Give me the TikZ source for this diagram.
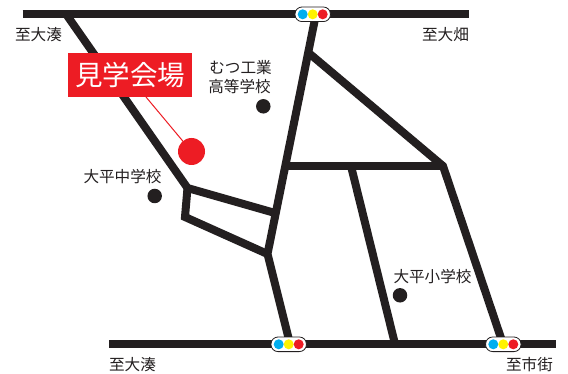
\documentclass[tikz,border=0pt]{standalone}
\usepackage{fontspec}
\setmainfont{Noto Sans CJK JP}[Scale=1]
\definecolor{ink}{HTML}{231F20}
\definecolor{mapred}{HTML}{ED1C24}
\definecolor{sigblue}{HTML}{00AEEF}
\definecolor{sigyellow}{HTML}{FFF200}
\tikzset{
  road/.style={draw=ink,line width=8pt,line join=miter},
  mainroad/.style={draw=ink,line width=8.3pt},
  lbl/.style={inner sep=0pt,text=ink,font=\fontsize{15.6pt}{18pt}\selectfont},
  landmark/.style={circle,fill=ink,draw=none,minimum size=14.5pt,inner sep=0pt},
  capsule/.style={draw=ink,fill=white,line width=0.8pt,rounded corners=7pt},
  lamp/.style={circle,draw=none,minimum size=10pt,inner sep=0pt},
}
\newcommand{\signal}[2]{%
  \path[capsule] (#1-17.7,#2-7.3) rectangle (#1+17.7,#2+7.3);
  \node[lamp,fill=sigblue] at (#1-10,#2) {};
  \node[lamp,fill=sigyellow] at (#1,#2) {};
  \node[lamp,fill=mapred] at (#1+10,#2) {};
}
\begin{document}
\begin{tikzpicture}[x=1pt,y=-1pt]
\useasboundingbox (0,0) rectangle (568,374);
\fill[white] (0,0) rectangle (568,374);
% junctions
\coordinate (tl) at (22.5,14);
\coordinate (tr) at (469,14);
\coordinate (bl) at (109,344);
\coordinate (br) at (556,344);
\coordinate (a) at (66,14);
\coordinate (b) at (187.5,188);
\coordinate (c) at (275,213);
\coordinate (d) at (185,217);
\coordinate (e) at (267.5,254);
\coordinate (f) at (316,14);
\coordinate (g) at (290,344);
\coordinate (h) at (310,54);
\coordinate (i) at (443,166);
\coordinate (j) at (287,166);
\coordinate (k) at (503,344);
\coordinate (m) at (351,166);
\coordinate (n) at (395,344);
% roads
\draw[road] (a) -- (b) -- (c);
\draw[road] (b) -- (d) -- (e);
\draw[road] (f) -- (e) -- (g);
\draw[road] (h) -- (i) -- (k);
\draw[road] (j) -- (i);
\draw[road] (m) -- (n);
\draw[mainroad] (tl) -- (tr);
\draw[mainroad] (bl) -- (br);
% signals
\signal{312.7}{14.3}
\signal{288.7}{344.3}
\signal{503.3}{344.3}
% venue
\coordinate (venue) at (191.5,151.5);
\node[rectangle,fill=mapred,minimum width=124pt,minimum height=44pt,inner sep=0pt,text=white,font=\fontsize{27.5pt}{30pt}\selectfont] (title) at (130,75) {見学会場};
\draw[mapred,line width=1pt] (146,97) -- (venue);
\node[circle,fill=mapred,minimum size=27pt,inner sep=0pt] (spot) at (venue) {};
% landmarks
\node[landmark] (s1) at (263.3,106.3) {};
\node[landmark] (s2) at (154.7,196) {};
\node[landmark] (s3) at (400,295.3) {};
% labels
\node[lbl,anchor=center] (l1) at (38.5,35) {至大湊};
\node[lbl,anchor=center] (l2) at (445.5,35) {至大畑};
\node[lbl,anchor=center] (l3) at (132.5,365) {至大湊};
\node[lbl,anchor=center] (l4) at (529.5,365) {至市街};
\node[lbl,anchor=center] (l5) at (240.5,68) {むつ工業};
\node[lbl,anchor=center] (l6) at (239.5,87) {高等学校};
\node[lbl,anchor=center] (l7) at (122.5,177) {大平中学校};
\node[lbl,anchor=center] (l8) at (432.5,277) {大平小学校};
\end{tikzpicture}
\end{document}
